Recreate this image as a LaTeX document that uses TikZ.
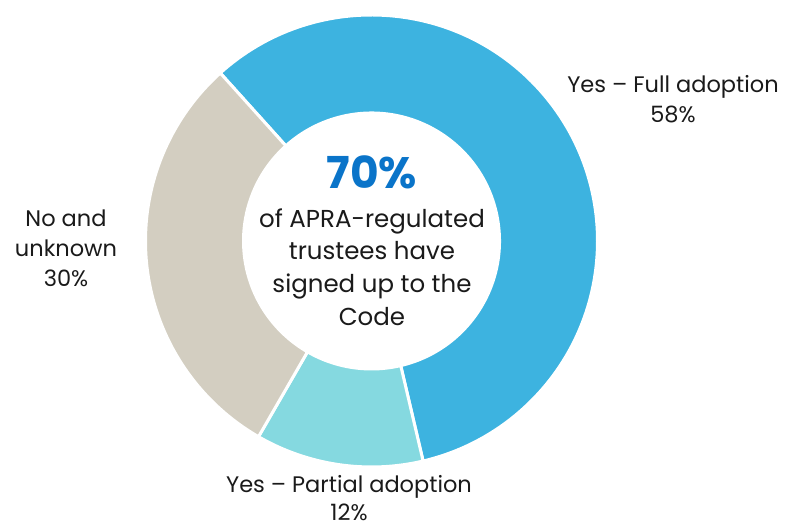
\documentclass[tikz,border=0pt]{standalone}
\usepackage{fontspec}
\setmainfont{Poppins}
\definecolor{fullblue}{HTML}{3DB3E0}
\definecolor{partteal}{HTML}{85D9E0}
\definecolor{nogray}{HTML}{D3CEC1}
\definecolor{bigblue}{HTML}{0A74C9}
\definecolor{txt}{HTML}{1A1A1A}
\begin{document}
\begin{tikzpicture}[x=1pt,y=1pt,
  slice/.style={draw=white, line width=3pt, line join=miter},
  lbl/.style={align=center, text=txt, font=\fontsize{22.5}{30}\selectfont, inner sep=0pt}]
\useasboundingbox (0,0) rectangle (785,527);
\def\R{226}\def\r{128}
\begin{scope}[shift={(371.5,286)}]
\fill[fullblue,slice] (132:\r) -- (132:\R) arc[start angle=132,end angle=-76.8,radius=\R] -- (-76.8:\r) arc[start angle=-76.8,end angle=132,radius=\r] -- cycle;
\fill[partteal,slice] (-76.8:\r) -- (-76.8:\R) arc[start angle=-76.8,end angle=-120,radius=\R] -- (-120:\r) arc[start angle=-120,end angle=-76.8,radius=\r] -- cycle;
\fill[nogray,slice] (-120:\r) -- (-120:\R) arc[start angle=-120,end angle=-228,radius=\R] -- (-228:\r) arc[start angle=-228,end angle=-120,radius=\r] -- cycle;
\end{scope}
\node[lbl] (full) at (673,428) {Yes – Full adoption\\58\%};
\node[lbl] (no) at (66,279) {No and\\unknown\\30\%};
\node[lbl, font=\fontsize{22.5}{28}\selectfont] (part) at (349,29) {Yes – Partial adoption\\12\%};
\node[inner sep=0pt, text=bigblue, font=\fontsize{44}{50}\selectfont\bfseries] (big) at (372,355) {70\%};
\node[lbl, font=\fontsize{24.5}{32.7}\selectfont] (desc) at (372,260) {of APRA-regulated\\trustees have\\signed up to the\\Code};
\end{tikzpicture}
\end{document}
